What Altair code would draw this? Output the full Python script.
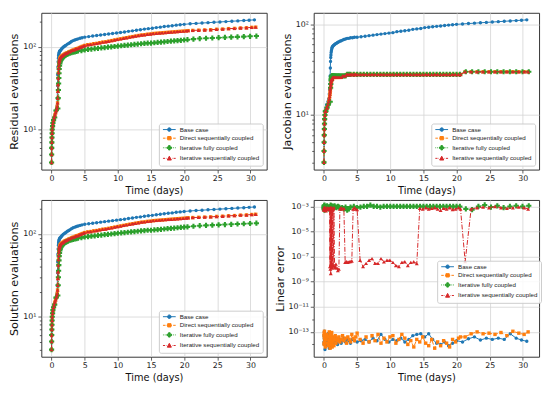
import altair as alt
import pandas as pd

SERIES = ["Base case", "Direct sequentially coupled", "Iterative fully coupled",
          "Iterative sequentially coupled"]
COLORS = ["#1f77b4", "#ff7f0e", "#2ca02c", "#d62728"]
DASHES = [None, [4, 2], [1, 1.6], [5, 1.6, 1, 1.6]]
SHAPES = ["circle", "square", "cross", "triangle-up"]
SIZES = [12, 12, 28, 16]
# legend glyphs: short line (with its dash pattern) + marker, in 2px units
LEGEND_PATHS = [
    "M-1,0H5.5M1.35,0A0.9,0.9,0,1,0,3.15,0A0.9,0.9,0,1,0,1.35,0Z",
    "M-1,0H0.3M0.9,0H1.5M3.0,0H3.6M4.2,0H5.5M1.4,-0.85H3.1V0.85H1.4Z",
    "M-1,0H-0.6M-0.1,0H0.3M0.8,0H1.2M3.3,0H3.7M4.2,0H4.6M5.1,0H5.5"
    "M1.85,-1.1H2.65V-0.4H3.35V0.4H2.65V1.1H1.85V0.4H1.15V-0.4H1.85Z",
    "M-1,0H0.1M0.55,0H0.75M3.75,0H3.95M4.4,0H5.5M2.25,-1.1L3.3,0.85H1.2Z",
]

# ---- Base case time steps and values ----
T_B = [0.0, 0.01, 0.02, 0.04, 0.06, 0.08, 0.1, 0.15, 0.2, 0.3,
       0.4, 0.5, 0.6, 0.7, 0.8, 0.85, 0.9, 0.93, 0.96, 0.99,
       1.02, 1.05, 1.08, 1.12, 1.16, 1.2, 1.25, 1.3, 1.4, 1.5,
       1.6, 1.75, 1.9, 2.05, 2.2, 2.4, 2.6, 2.8, 3.0, 3.25,
       3.5, 3.75, 4.0, 4.3, 4.6, 5.0, 5.6, 6.2, 6.8, 7.4,
       8.0, 8.6, 9.2, 9.8, 10.4, 11.0, 11.6, 12.2, 12.8, 13.4,
       14.0, 14.6, 15.2, 15.8, 16.4, 17.0, 17.6, 18.2, 18.8, 19.4,
       20.0, 20.9, 21.8, 22.7, 23.6, 24.5, 25.4, 26.3, 27.2, 28.1,
       29.0, 29.8, 30.6]
R_B = [4, 5, 6, 7, 8, 9, 10, 11, 12, 13,
       14, 15, 16, 17, 19, 24, 34, 46, 57, 66,
       73, 78, 81, 84, 86, 88, 89, 90, 92, 94,
       96, 99, 101, 103, 105, 108, 110, 113, 116, 119,
       121, 123, 125, 127, 129, 131, 133, 135, 137, 139,
       141, 143, 145, 147, 149, 151, 154, 156, 159, 161,
       164, 166, 168, 171, 173, 176, 178, 180, 183, 185,
       187, 190, 192, 194, 196, 198, 200, 202, 204, 206,
       208, 210, 212]
J_B = [3, 4, 5, 6, 7, 8, 9, 10, 11, 12,
       13, 13, 14, 15, 17, 19, 22, 27, 33, 39,
       43, 46, 49, 51, 53, 55, 56, 57, 58, 59,
       60, 61, 62, 63, 64, 65, 66, 67, 68, 69,
       70, 70, 71, 71, 72, 72, 73, 74, 75, 76,
       77, 78, 79, 80, 81, 83, 84, 85, 86, 88,
       89, 90, 92, 93, 94, 95, 96, 97, 98, 99,
       100, 101, 102, 103, 104, 105, 106, 107, 108, 109,
       110, 111, 112]
L_B_EXP = [-13.8, -13.3, -14.0, -13.5, -12.95, -13.9, -13.4, -14.4, -13.6, -13.2,
           -14.1, -13.5, -13.8, -13.1, -14.3, -13.6, -13.4, -14.0, -13.2, -13.7,
           -13.9, -13.4, -14.2, -13.6, -13.3, -13.8, -14.0, -13.5, -13.7, -13.9,
           -13.6, -13.8, -13.5, -14.0, -13.7, -13.6, -13.9, -13.7, -13.5, -13.8,
           -13.6, -13.7, -13.9, -13.6, -13.7, -13.8,
           -13.7, -13.6, -13.8, -13.5, -13.7, -13.2, -13.6, -13.8, -13.6, -13.7,
           -13.5, -13.8, -13.6, -13.3, -13.2, -13.15, -13.4, -13.15, -13.6, -13.9,
           -14.0, -13.8, -14.1, -13.9, -13.7,
           -13.8, -13.55, -13.4, -13.65, -13.5, -13.6, -13.5, -13.6, -13.15, -13.5,
           -13.65, -13.75]

# ---- Sequentially coupled time steps and values ----
T_S = [0.0, 0.01, 0.02, 0.04, 0.06, 0.08, 0.1, 0.15, 0.2, 0.3,
       0.4, 0.5, 0.6, 0.7, 0.8, 0.85, 0.9, 0.93, 0.96, 0.99,
       1.02, 1.05, 1.08, 1.11, 1.14, 1.17, 1.2, 1.24, 1.28, 1.33,
       1.4, 1.5, 1.6, 1.7, 1.8, 1.95, 2.1, 2.25, 2.4, 2.6,
       2.8, 3.0, 3.2, 3.4, 3.6, 3.8, 4.0, 4.2, 4.4, 4.6,
       4.8, 5.0, 5.45, 5.9, 6.35, 6.8, 7.25, 7.7, 8.15, 8.6,
       9.05, 9.5, 9.95, 10.4, 10.85, 11.3, 11.75, 12.2, 12.65, 13.1,
       13.55, 14.0, 14.45, 14.9, 15.35, 15.8, 16.25, 16.7, 17.15, 17.6,
       18.05, 18.5, 18.95, 19.4, 19.85, 20.3, 20.6, 21.3, 22.2, 23.1,
       24.0, 24.9, 25.8, 26.7, 27.6, 28.5, 29.4, 30.2, 30.8]
R_S = [4, 5, 6, 7, 8, 9, 10, 11, 12, 13,
       14, 15, 16, 17, 18, 19, 21, 24, 29, 35,
       42, 49, 55, 60, 64, 67, 69, 71, 73, 74,
       76, 77, 78, 79, 80, 82, 83, 84, 85, 87,
       88, 90, 91, 92, 94, 95, 96, 98, 99, 101,
       102, 104, 106, 107, 109, 110, 112, 114, 115, 117,
       119, 121, 123, 125, 127, 129, 131, 133, 135, 137,
       139, 140, 142, 143, 145, 146, 147, 148, 149, 150,
       151, 152, 153, 154, 155, 156, 157, 158, 159, 160,
       161, 163, 164, 166, 167, 169, 170, 172, 173]
J_S = [3, 4, 5, 6, 7, 8, 9, 10, 11, 11,
       12, 12, 13, 14, 15, 16, 17, 18, 19, 20,
       21, 22, 23, 24, 24, 25, 25, 25, 25, 26,
       26, 26, 26, 26, 26, 26, 26, 26, 26, 26,
       27, 27, 27, 28, 28, 28, 28, 28, 28, 28,
       28, 28, 28, 28, 28, 28, 28, 28, 28, 28,
       28, 28, 28, 28, 28, 28, 28, 28, 28, 28,
       28, 28, 28, 28, 28, 28, 28, 28, 28, 28,
       28, 28, 28, 28, 28, 28, 28, 30, 30, 30,
       30, 30, 30, 30, 30, 30, 30, 30, 30]
L_D_EXP = [-13.3, -13.9, -13.1, -14.0, -13.5, -12.95, -13.8, -13.3, -14.2, -13.6,
           -13.2, -13.9, -13.4, -14.1, -13.0, -13.7, -13.3, -14.3, -13.5, -13.1,
           -13.9, -13.4, -14.0, -13.2, -13.6, -13.05, -13.8, -14.2, -13.4, -13.7,
           -13.5, -14.1, -13.6, -13.3, -13.9, -13.5, -13.7, -13.4, -13.8, -13.6,
           -13.3, -13.7, -13.5, -13.9, -13.4, -13.6, -13.8, -13.2, -13.5, -13.7,
           -13.4, -13.1,
           -13.6, -13.9, -13.4, -13.8, -13.3, -13.7, -13.2, -13.9, -13.5, -13.8,
           -13.4, -13.3, -13.9, -13.6, -13.2, -13.5, -14.0, -13.7, -14.2, -13.6,
           -13.8, -13.4, -13.9, -14.1, -13.6, -14.3, -13.8, -14.1, -13.7, -13.9,
           -14.2, -13.6, -13.8, -13.5, -13.4,
           -13.4,
           -13.15, -13.0, -13.15, -13.1, -13.2, -13.05, -13.3, -12.95, -13.1, -13.2,
           -13.0]
L_S_EXP = [-3.2, -3.1, -3.3, -3.15, -3.25, -3.1, -3.3, -3.2, -3.1, -3.35,
           -3.2, -3.1, -3.25, -3.15, -3.2,
           -3.2, -7.8, -3.1, -8.0, -3.2, -8.35, -3.1, -7.7, -3.2, -7.9,
           -3.1, -7.6, -3.3, -7.9, -3.2,
           -7.7, -3.1, -7.8, -7.9, -7.6, -7.9, -8.1, -8.0, -3.2, -3.1,
           -3.2, -3.15,
           -7.45, -7.4, -7.45, -7.4, -7.4, -7.35, -3.2, -3.1, -3.2, -3.25,
           -7.29, -7.79, -7.54, -7.29, -7.16, -7.54, -7.54, -7.16, -7.41, -7.29,
           -7.29, -7.46, -7.71, -7.79, -7.46, -7.41, -7.71, -7.46, -7.41, -7.56,
           -3.15, -3.2, -3.1, -3.2, -3.15, -3.1, -3.2, -3.3, -3.15, -3.2,
           -3.1, -3.25, -3.2, -3.1, -3.2,
           -7.4,
           -3.2, -3.1, -3.05, -3.1, -3.0, -3.1, -3.15, -3.1, -3.05, -3.1,
           -3.2]

# ---- Fully coupled time steps and values ----
T_F = [0.0, 0.01, 0.02, 0.04, 0.06, 0.08, 0.1, 0.15, 0.2, 0.3,
       0.47, 0.66, 0.94, 1.0, 1.03, 1.06, 1.09, 1.12, 1.15, 1.2,
       1.25, 1.3, 1.4, 1.5, 1.6, 1.75, 1.9, 2.1, 2.3, 2.5,
       2.75, 3.0, 3.25, 3.5, 3.75, 4.0, 4.5, 5.0, 5.5, 6.0,
       6.5, 7.0, 7.5, 8.0, 8.5, 9.0, 9.5, 10.0, 10.5, 11.0,
       11.5, 12.0, 12.5, 13.0, 13.5, 14.0, 14.5, 15.0, 15.5, 16.0,
       16.5, 17.0, 17.5, 18.0, 18.5, 19.0, 19.5, 20.0, 20.5, 21.4,
       22.35, 23.3, 24.25, 25.2, 26.15, 27.1, 28.05, 29.0, 29.95, 30.9]
R_F = [4, 5, 6, 7, 8, 9, 10, 11, 12, 13,
       14, 17, 18, 24, 30, 36, 42, 48, 54, 59,
       63, 66, 69, 71, 73, 75, 77, 79, 81, 82,
       84, 85, 86, 87, 88, 89, 90, 92, 93, 94,
       95, 96, 97, 98, 99, 100, 101, 102, 103, 104,
       105, 106, 107, 108, 109, 110, 111, 111, 112, 113,
       114, 115, 116, 117, 118, 119, 120, 121, 122, 124,
       126, 127, 128, 129, 130, 131, 132, 133, 134, 135]
J_F = [3, 4, 5, 6, 7, 8, 9, 10, 11, 11,
       12, 13, 14, 20, 22, 24, 25, 26, 26, 27,
       27, 27, 27, 27, 27, 27, 27, 27, 27, 27,
       27, 27, 27, 28, 28, 28, 28, 28, 28, 28,
       28, 28, 28, 28, 28, 28, 28, 28, 28, 28,
       28, 28, 28, 28, 28, 28, 28, 28, 28, 28,
       28, 28, 28, 28, 28, 28, 28, 28, 28, 30,
       30, 30, 30, 30, 30, 30, 30, 30, 30, 30]
L_F_EXP = [-3.1, -2.95, -3.2, -3.05, -3.3, -2.9, -3.15, -3.0, -3.25, -3.1,
           -2.95, -3.2, -3.05, -2.9, -3.15, -3.3, -3.0, -3.1, -2.95, -3.2,
           -3.05, -3.15, -3.0, -3.1, -2.95, -3.05, -3.1, -3.0, -3.05, -3.15,
           -3.1, -3.2, -3.05, -3.3, -3.2, -3.05, -3.0, -3.1, -3.05, -3.0,
           -3.0, -2.9, -3.0, -3.0, -3.05, -3.0, -3.0, -3.0, -3.0, -3.0,
           -3.0, -3.0, -3.0, -3.0, -3.0, -3.0, -3.0, -3.0, -3.0, -3.0,
           -3.0, -3.0, -3.0, -3.0, -3.0, -3.0, -3.0, -3.0, -3.0,
           -3.2, -3.25, -3.0, -2.88, -3.05, -2.95, -3.1, -3.0, -2.95, -3.0,
           -2.95]

X_DOMAIN = [-1.55, 32.45]
X_TICKS = [0, 5, 10, 15, 20, 25, 30]
W, H = 230, 160

EVAL_TICKS = [4, 5, 6, 7, 8, 9, 10, 20, 30, 40, 50, 60, 70, 80, 90, 100, 200]
JAC_TICKS = [3, 4, 5, 6, 7, 8, 9, 10, 20, 30, 40, 50, 60, 70, 80, 90, 100]
ERR_TICKS = [1e-14, 1e-13, 1e-12, 1e-11, 1e-10, 1e-9, 1e-8, 1e-7, 1e-6,
             1e-5, 1e-4, 1e-3]


def pw(exps):
    return [10.0 ** e for e in exps]


SUP = str.maketrans("-0123456789", "\u207b\u2070\u00b9\u00b2\u00b3\u2074\u2075\u2076\u2077\u2078\u2079")
LOG = "(log(datum.value)/LN10)"


def y_axis(title, ticks, majors):
    lab = "''"
    for e in majors:
        text = "10" + str(e).translate(SUP)
        lab = f"abs({LOG} - ({e})) < 0.01 ? '{text}' : ({lab})"
    test = " || ".join(f"abs({LOG} - ({e})) < 0.01" for e in majors)
    return alt.Axis(
        title=title, values=ticks, labelExpr=lab, labelOverlap=False,
        tickSize={"condition": {"test": test, "value": 3.5}, "value": 2},
        gridOpacity={"condition": {"test": test, "value": 1}, "value": 0},
    )


def panel(ytitle, ydomain, ticks, majors, series, legend_kw):
    x = alt.X("t:Q", scale=alt.Scale(domain=X_DOMAIN, nice=False, zero=False),
              axis=alt.Axis(title="Time (days)", values=X_TICKS, format="d"))
    y = alt.Y("v:Q", scale=alt.Scale(type="log", domain=ydomain, nice=False),
              axis=y_axis(ytitle, ticks, majors))
    layers = []
    for i, (ts, vs) in enumerate(series):
        n = min(len(ts), len(vs))
        df = pd.DataFrame({"t": ts[:n], "v": vs[:n]})
        lk = dict(color=COLORS[i], strokeWidth=1)
        if DASHES[i]:
            lk["strokeDash"] = DASHES[i]
        layers.append(alt.Chart(df).mark_line(**lk).encode(x=x, y=y))
        layers.append(alt.Chart(df).mark_point(
            filled=True, shape=SHAPES[i], size=SIZES[i], color=COLORS[i],
            opacity=1, strokeWidth=0.5).encode(x=x, y=y))
    leg = alt.Legend(
        title=None, fillColor="rgba(255,255,255,0.85)", strokeColor="#cccccc",
        cornerRadius=2, padding=3, labelFont="Liberation Sans", labelFontSize=6.3,
        labelColor="#222222", symbolSize=16, symbolStrokeWidth=1, labelOffset=12,
        rowPadding=0.8, **legend_kw)
    ldf = pd.DataFrame({"s": SERIES})
    layers.append(alt.Chart(ldf).mark_point(
        filled=True, size=16, strokeWidth=1, opacity=1, clip=True).encode(
        x=alt.value(-60), y=alt.value(-60),
        color=alt.Color("s:N", scale=alt.Scale(domain=SERIES, range=COLORS), legend=leg),
        stroke=alt.Stroke("s:N", scale=alt.Scale(domain=SERIES, range=COLORS), legend=leg),
        shape=alt.Shape("s:N", scale=alt.Scale(domain=SERIES, range=LEGEND_PATHS), legend=leg),
    ))
    return alt.layer(*layers).properties(width=W, height=H)


corner = dict(orient="bottom-right", offset=4)
p1 = panel("Residual evaluations", [3.28, 258], EVAL_TICKS, [1, 2],
           [(T_B, R_B), (T_S, R_S), (T_F, R_F), (T_S, R_S)], corner)
p2 = panel("Jacobian evaluations", [2.5, 134], JAC_TICKS, [1, 2],
           [(T_B, J_B), (T_S, J_S), (T_F, J_F), (T_S, J_S)], corner)
p3 = panel("Solution evaluations", [3.28, 258], EVAL_TICKS, [1, 2],
           [(T_B, R_B), (T_S, R_S), (T_F, R_F), (T_S, R_S)], corner)
p4 = panel("Linear error", [1.05e-15, 3.3e-3], ERR_TICKS, [-3, -5, -7, -9, -11, -13],
           [(T_B, pw(L_B_EXP)), (T_S, pw(L_D_EXP)), (T_F, pw(L_F_EXP)), (T_S, pw(L_S_EXP))],
           dict(orient="none", legendX=W - 104, legendY=62))

chart = alt.concat(p1, p2, p3, p4, columns=2, spacing={"row": 3, "column": 6}).resolve_scale(
    color="independent", stroke="independent", shape="independent"
).resolve_legend(
    color="independent", stroke="independent", shape="independent"
).properties(padding=0).configure_view(
    stroke="#333333", strokeWidth=1
).configure_axis(
    labelFont="DejaVu Sans", labelFontSize=8, labelColor="#222222",
    titleFont="DejaVu Sans", titleFontWeight="normal", titleColor="#111111",
    tickColor="#333333", tickWidth=0.8, tickSize=3.5, domain=False,
    gridColor="#d4d4d4", gridWidth=0.8, labelPadding=2,
).configure_axisX(titleFontSize=10, titlePadding=3).configure_axisY(
    titleFontSize=11.5, titlePadding=3)

chart.save("out.html", embed_options={"renderer": "svg", "actions": False})
